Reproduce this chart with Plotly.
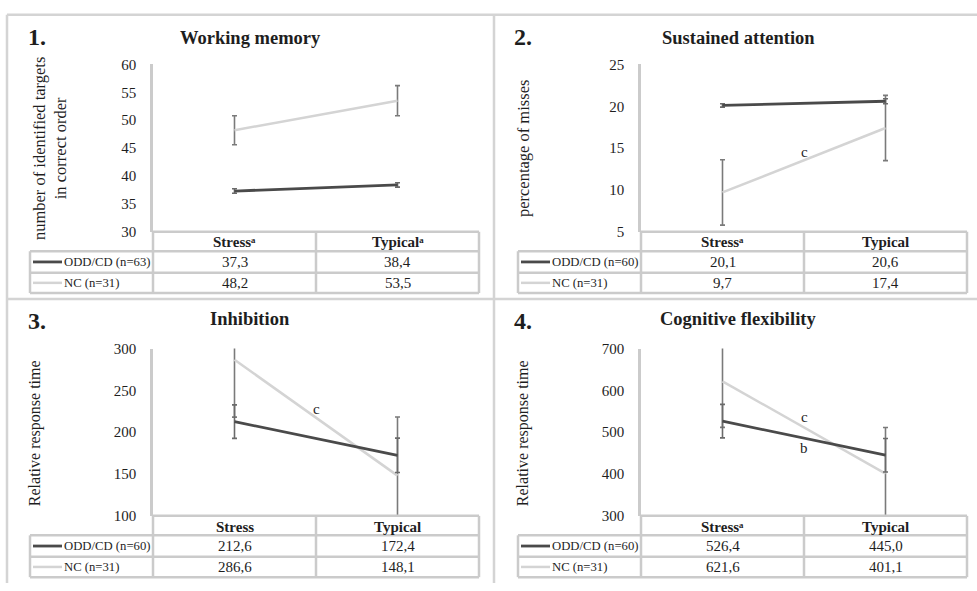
import plotly.graph_objects as go

W, H = 977, 591
FONT = "Liberation Serif"
TXT = "#1e1e1e"
DARK = "#4a4a4a"
LIGHT = "#d4d4d4"
GRID = "#cbcbcb"

categories = ["Stress", "Typical"]

titles = ["Working memory", "Sustained attention", "Inhibition", "Cognitive flexibility"]
numbers = ["1.", "2.", "3.", "4."]
y_titles = ["number of identified targets<br>in correct order", "percentage of misses",
            "Relative response time", "Relative response time"]
SUP_A = "\u1d43"
header_labels = [["Stress" + SUP_A, "Typical" + SUP_A],
                 ["Stress" + SUP_A, "Typical"],
                 ["Stress", "Typical"],
                 ["Stress" + SUP_A, "Typical"]]
odd_labels = ["ODD/CD (n=63)", "ODD/CD (n=60)", "ODD/CD (n=60)", "ODD/CD (n=60)"]
nc_labels = ["NC (n=31)", "NC (n=31)", "NC (n=31)", "NC (n=31)"]

odd_values = [[37.3, 38.4], [20.1, 20.6], [212.6, 172.4], [526.4, 445.0]]
nc_values = [[48.2, 53.5], [9.7, 17.4], [286.6, 148.1], [621.6, 401.1]]
odd_errors = [[0.4, 0.4], [0.2, 0.3], [20.0, 20.5], [40.0, 40.0]]
nc_errors = [[2.6, 2.7], [3.9, 3.9], [68.6, 70.0], [110.0, 110.0]]

y_ranges = [[30, 60], [5, 25], [100, 300], [300, 700]]
y_dticks = [5, 5, 50, 100]

# significance markers: (panel, label, y value)
sig_panels = [1, 2, 3, 3]
sig_labels = ["c", "c", "c", "b"]
sig_yvals = [14.5, 228, 536, 462]


def X(px):
    return px / W


def Y(py):
    return 1 - py / H


offsets = [(0, 0), (488, 0), (0, 292), (488, 292)]

fig = go.Figure()
shapes = []
annotations = []


def note(x, y, text, size=14, weight="normal", xanchor="center", **kw):
    d = dict(xref="paper", yref="paper", x=x, y=y, text=text, showarrow=False,
             xanchor=xanchor, yanchor="middle",
             font=dict(family=FONT, size=size, color=TXT, weight=weight))
    d.update(kw)
    annotations.append(d)


# outer panel borders
border = dict(color="#d4d4d4", width=2.5)
for (x0, y0, x1, y1) in [(7, 7, W, 7), (7, 7, 7, H), (494, 7, 494, H), (7, 299, W, 299)]:
    shapes.append(dict(type="line", xref="paper", yref="paper", x0=X(x0), y0=Y(y0),
                       x1=X(x1), y1=Y(y1), line=border, layer="below"))

for i in range(4):
    ox, oy = offsets[i]
    xa = "x" if i == 0 else f"x{i+1}"
    ya = "y" if i == 0 else f"y{i+1}"
    ax_left, ax_right = 153 + ox, 479 + ox
    ax_top, ax_bot = 58 + oy, 230 + oy
    xkey = "xaxis" if i == 0 else f"xaxis{i+1}"
    ykey = "yaxis" if i == 0 else f"yaxis{i+1}"
    fig.layout[xkey] = dict(domain=[X(ax_left), X(ax_right)], range=[-0.5, 1.5],
                            type="category", visible=False, anchor=ya,
                            categoryorder="array", categoryarray=categories)
    fig.layout[ykey] = dict(domain=[Y(ax_bot), Y(ax_top)], range=y_ranges[i], dtick=y_dticks[i],
                            tick0=y_ranges[i][0], showgrid=False, zeroline=False,
                            showline=True, linecolor=GRID, linewidth=2.5, anchor=xa,
                            ticks="outside", ticklen=11, tickcolor="rgba(0,0,0,0)",
                            tickfont=dict(family=FONT, size=15, color=TXT))

    fig.add_trace(go.Scatter(x=categories, y=nc_values[i], mode="lines", xaxis=xa, yaxis=ya,
                             line=dict(color=LIGHT, width=2.5), showlegend=False,
                             error_y=dict(type="data", array=nc_errors[i], color="#7a7a7a",
                                          thickness=1.6, width=2.5)))
    fig.add_trace(go.Scatter(x=categories, y=odd_values[i], mode="lines", xaxis=xa, yaxis=ya,
                             line=dict(color=DARK, width=2.8), showlegend=False,
                             error_y=dict(type="data", array=odd_errors[i], color="#6a6a6a",
                                          thickness=1.6, width=2.5)))

    # table
    tl = dict(color=GRID, width=2.5)
    r0, r1, r2, r3 = 230 + oy, 250 + oy, 272 + oy, 293 + oy
    c0, c1, c2, c3 = 30 + ox, 153 + ox, 316 + ox, 479 + ox
    lines = [(c1, r0, c3, r0), (c0, r1, c3, r1), (c0, r2, c3, r2), (c0, r3, c3, r3),
             (c0, r1, c0, r3), (c1, r0, c1, r3), (c2, r0, c2, r3), (c3, r0, c3, r3)]
    for (x0, y0, x1, y1) in lines:
        shapes.append(dict(type="line", xref="paper", yref="paper", x0=X(x0), y0=Y(y0),
                           x1=X(x1), y1=Y(y1), line=tl))
    # legend samples
    shapes.append(dict(type="line", xref="paper", yref="paper", x0=X(c0 + 3), x1=X(c0 + 32),
                       y0=Y((r1 + r2) / 2), y1=Y((r1 + r2) / 2), line=dict(color=DARK, width=2.8)))
    shapes.append(dict(type="line", xref="paper", yref="paper", x0=X(c0 + 3), x1=X(c0 + 32),
                       y0=Y((r2 + r3) / 2), y1=Y((r2 + r3) / 2), line=dict(color=LIGHT, width=2.5)))
    note(X(c0 + 32), Y((r1 + r2) / 2), odd_labels[i], size=12.7, xanchor="left")
    note(X(c0 + 32), Y((r2 + r3) / 2), nc_labels[i], size=12.7, xanchor="left")
    for j, (ca, cb) in enumerate([(c1, c2), (c2, c3)]):
        cx = X((ca + cb) / 2)
        note(cx, Y((r0 + r1) / 2 + 1), header_labels[i][j], size=15, weight="bold")
        note(cx, Y((r1 + r2) / 2), f"{odd_values[i][j]:.1f}".replace(".", ","), size=15)
        note(cx, Y((r2 + r3) / 2), f"{nc_values[i][j]:.1f}".replace(".", ","), size=15)

    # titles
    note(X(250 + ox), Y(31 + oy - (3 if i >= 2 else 0)), titles[i], size=18.5, weight="bold")
    note(X(26 + ox - (2 if i % 2 else 0)), Y(30 + oy), numbers[i], size=24, weight="bold",
         xanchor="left")
    ytx = 50 if i == 0 else 35
    note(X(ytx + ox), Y(145 + oy), y_titles[i], size=16.5 if i < 2 else 16, textangle=-90)

for p, lab, yv in zip(sig_panels, sig_labels, sig_yvals):
    xa = "x" if p == 0 else f"x{p+1}"
    ya = "y" if p == 0 else f"y{p+1}"
    annotations.append(dict(xref=xa, yref=ya, x=0.5, y=yv, text=lab, showarrow=False,
                            xanchor="center", yanchor="middle",
                            font=dict(family=FONT, size=15, color=TXT)))

fig.update_layout(width=W, height=H, margin=dict(l=0, r=0, t=0, b=0),
                  paper_bgcolor="white", plot_bgcolor="white",
                  shapes=shapes, annotations=annotations, showlegend=False)

fig.write_html("out.html", config={"displayModeBar": False},
               post_script="document.body.style.margin='0';")
